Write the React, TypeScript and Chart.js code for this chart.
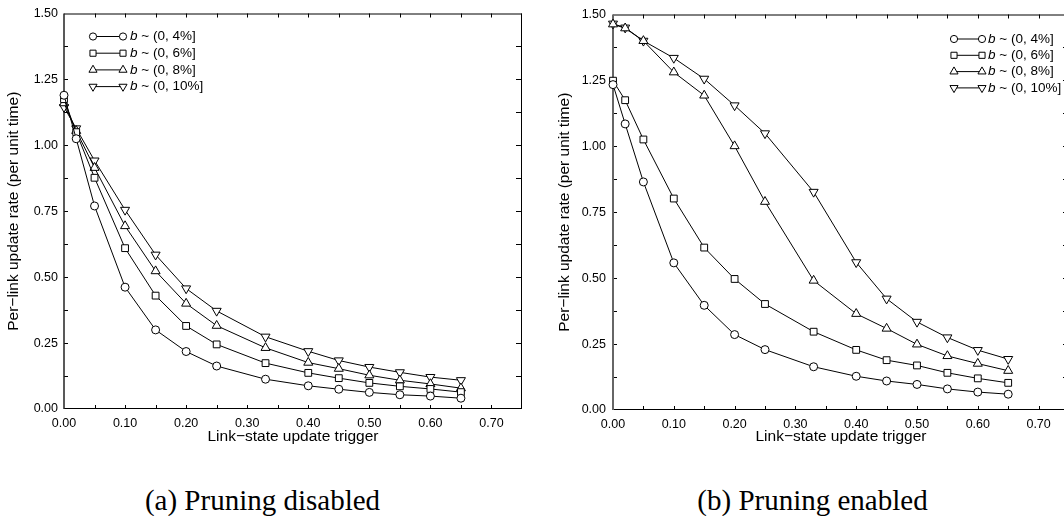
import React, { useEffect, useRef } from 'react';
import { Chart, registerables } from 'chart.js';
import { drawPoint } from 'chart.js/helpers';

Chart.register(...registerables);

// ---------- data ----------
const triggers = [0, 0.02, 0.05, 0.1, 0.15, 0.2, 0.25, 0.33, 0.4, 0.45, 0.5, 0.55, 0.6, 0.65];
const seriesNames = ['(0, 4%]', '(0, 6%]', '(0, 8%]', '(0, 10%]'];

const disabledB4 = [1.19, 1.025, 0.77, 0.462, 0.3, 0.218, 0.163, 0.113, 0.088, 0.075, 0.063, 0.054, 0.049, 0.041];
const disabledB6 = [1.175, 1.05, 0.877, 0.61, 0.43, 0.315, 0.245, 0.174, 0.137, 0.117, 0.099, 0.086, 0.076, 0.064];
const disabledB8 = [1.16, 1.055, 0.915, 0.694, 0.523, 0.4, 0.316, 0.232, 0.176, 0.153, 0.128, 0.109, 0.095, 0.079];
const disabledB10 = [1.145, 1.064, 0.942, 0.755, 0.585, 0.457, 0.372, 0.274, 0.219, 0.184, 0.159, 0.139, 0.121, 0.109];

const enabledB4 = [1.234, 1.085, 0.865, 0.558, 0.397, 0.286, 0.229, 0.164, 0.128, 0.11, 0.097, 0.08, 0.068, 0.06];
const enabledB6 = [1.249, 1.175, 1.026, 0.802, 0.616, 0.497, 0.402, 0.297, 0.228, 0.189, 0.169, 0.141, 0.12, 0.103];
const enabledB8 = [1.463, 1.448, 1.4, 1.281, 1.193, 1.001, 0.79, 0.491, 0.365, 0.309, 0.249, 0.205, 0.176, 0.149];
const enabledB10 = [1.465, 1.45, 1.4, 1.335, 1.256, 1.155, 1.049, 0.827, 0.56, 0.422, 0.334, 0.275, 0.227, 0.193];

const xAxisTitle = 'Link\u2212state update trigger';
const yAxisTitle = 'Per\u2212link update rate (per unit time)';
const captionA = '(a) Pruning disabled';
const captionB = '(b) Pruning enabled';

// ---------- styles ----------
const SANS = "'Liberation Sans', Arial, Helvetica, sans-serif";
const SERIF = "'Liberation Serif', 'Times New Roman', serif";
const markers = [
  { pointStyle: 'circle', radius: 4, rotation: 0 },
  { pointStyle: 'rect', radius: 4.8, rotation: 0 },
  { pointStyle: 'triangle', radius: 5.2, rotation: 0 },
  { pointStyle: 'triangle', radius: 5.2, rotation: 180 },
];

const framePlugin = {
  id: 'frameTicks',
  beforeDatasetsDraw(chart: any, _args: any, opts: any) {
    const { ctx, chartArea, scales } = chart;
    const { left, right, top, bottom } = chartArea;
    const xs = scales.x;
    const ys = scales.y;
    ctx.save();
    ctx.strokeStyle = '#000';
    ctx.lineWidth = 1;
    ctx.beginPath();
    ctx.moveTo(left, top + 0.5);
    ctx.lineTo(right, top + 0.5);
    ctx.moveTo(right - 0.5, top);
    ctx.lineTo(right - 0.5, bottom);
    ctx.moveTo(left, bottom - 0.5);
    ctx.lineTo(right, bottom - 0.5);
    for (let v = opts.xMinorStep; v < xs.max - 1e-9; v += opts.xMinorStep) {
      const px = Math.round(xs.getPixelForValue(v)) + 0.5;
      ctx.moveTo(px, bottom);
      ctx.lineTo(px, bottom - 4);
      ctx.moveTo(px, top);
      ctx.lineTo(px, top + 4);
    }
    for (let v = opts.yMinorStep; v < ys.max - 1e-9; v += opts.yMinorStep) {
      const py = Math.round(ys.getPixelForValue(v)) + 0.5;
      ctx.moveTo(left, py);
      ctx.lineTo(left + 4, py);
      ctx.moveTo(right, py);
      ctx.lineTo(right - 6, py);
    }
    ctx.stroke();
    ctx.beginPath();
    ctx.strokeStyle = opts.leftColor;
    ctx.lineWidth = opts.leftWidth;
    ctx.moveTo(left, top);
    ctx.lineTo(left, bottom);
    ctx.stroke();
    ctx.restore();
  },
};

const symLegendPlugin = {
  id: 'symLegend',
  afterDraw(chart: any, _args: any, opts: any) {
    const { ctx, chartArea } = chart;
    chart.data.datasets.forEach((_ds: any, i: number) => {
      const y = chartArea.top + opts.y0 + i * opts.dy;
      const ax = chartArea.left + opts.x0;
      const bx = chartArea.left + opts.x1;
      const tx = chartArea.left + opts.tx;
      ctx.save();
      ctx.strokeStyle = '#000';
      ctx.lineWidth = 1;
      ctx.beginPath();
      ctx.moveTo(ax, y);
      ctx.lineTo(bx, y);
      ctx.stroke();
      ctx.fillStyle = '#fff';
      const m = markers[i];
      const po = { pointStyle: m.pointStyle, radius: m.radius * 0.9, rotation: m.rotation, borderWidth: 1 };
      drawPoint(ctx, po as any, ax, y);
      drawPoint(ctx, po as any, bx, y);
      ctx.fillStyle = '#000';
      ctx.textBaseline = 'middle';
      ctx.textAlign = 'left';
      ctx.font = `italic 13.5px ${SANS}`;
      ctx.fillText('b', tx, y);
      const w = ctx.measureText('b').width;
      ctx.font = `13.5px ${SANS}`;
      ctx.fillText(' ~ ' + seriesNames[i], tx + w, y);
      ctx.restore();
    });
  },
};

type PanelProps = {
  series: number[][];
  left: number;
  width: number;
  height: number;
  padTop: number;
  padRight: number;
  yWidth: number;
  xHeight: number;
  yTickPad: number;
  xTickPad: number;
  leftColor: string;
  leftWidth: number;
  legend: { x0: number; x1: number; tx: number; y0: number; dy: number };
};

function Panel(p: PanelProps) {
  const ref = useRef<HTMLCanvasElement | null>(null);
  useEffect(() => {
    if (!ref.current) return;
    const chart = new Chart(ref.current, {
      type: 'line',
      data: {
        datasets: p.series.map((vals, i) => ({
          label: 'b ~ ' + seriesNames[i],
          data: triggers.map((x, j) => ({ x, y: vals[j] })),
          borderColor: '#000',
          borderWidth: 1,
          backgroundColor: '#fff',
          pointBackgroundColor: '#fff',
          pointBorderColor: '#000',
          pointBorderWidth: 1,
          pointStyle: markers[i].pointStyle as any,
          pointRadius: markers[i].radius,
          pointRotation: markers[i].rotation,
          tension: 0,
          clip: false as any,
        })),
      },
      options: {
        animation: false,
        responsive: false,
        maintainAspectRatio: false,
        events: [],
        layout: { padding: { left: 0, top: p.padTop, right: p.padRight, bottom: 0 } },
        plugins: {
          legend: { display: false },
          tooltip: { enabled: false },
          frameTicks: { xMinorStep: 0.05, yMinorStep: 0.125, leftColor: p.leftColor, leftWidth: p.leftWidth },
          symLegend: p.legend,
        } as any,
        scales: {
          x: {
            type: 'linear',
            min: 0,
            max: 0.75,
            grid: { display: false, drawTicks: false },
            border: { display: false },
            ticks: {
              stepSize: 0.1,
              includeBounds: false,
              padding: p.xTickPad,
              color: '#000',
              font: { family: SANS, size: 12.5 },
              maxRotation: 0,
              callback: (v: any) => Number(v).toFixed(2),
            },
            title: {
              display: true,
              text: xAxisTitle,
              color: '#000',
              font: { family: SANS, size: 15.5 },
              padding: { top: 0, bottom: 9 },
            },
            afterFit: (s: any) => {
              s.height = p.xHeight;
            },
          },
          y: {
            type: 'linear',
            min: 0,
            max: 1.5,
            grid: { display: false, drawTicks: false },
            border: { display: false },
            ticks: {
              stepSize: 0.25,
              padding: p.yTickPad,
              color: '#000',
              font: { family: SANS, size: 12.5 },
              callback: (v: any) => Number(v).toFixed(2),
            },
            title: {
              display: true,
              text: yAxisTitle,
              color: '#000',
              font: { family: SANS, size: 15.5 },
              padding: { top: 4.5, bottom: 0 },
            },
            afterFit: (s: any) => {
              s.width = p.yWidth;
            },
          },
        },
      },
      plugins: [framePlugin, symLegendPlugin],
    });
    return () => chart.destroy();
  }, []);
  return (
    <canvas
      ref={ref}
      width={p.width}
      height={p.height}
      style={{ position: 'absolute', left: p.left, top: 0, width: p.width, height: p.height }}
    />
  );
}

const captionStyle = (cx: number): React.CSSProperties => ({
  position: 'absolute',
  left: cx - 200,
  width: 400,
  top: 484,
  lineHeight: '32px',
  textAlign: 'center',
  fontFamily: SERIF,
  fontSize: 29,
  color: '#000',
  whiteSpace: 'nowrap',
});

export default function App() {
  return (
    <div
      style={{
        position: 'fixed',
        left: 0,
        top: 0,
        width: 1064,
        height: 516,
        overflow: 'hidden',
        background: '#fff',
      }}
    >
      <Panel
        series={[disabledB4, disabledB6, disabledB8, disabledB10]}
        left={0}
        width={540}
        height={455}
        padTop={10}
        padRight={18}
        yWidth={64}
        xHeight={46}
        yTickPad={6}
        xTickPad={7}
        leftColor="#222"
        leftWidth={1.5}
        legend={{ x0: 29, x1: 59, tx: 66, y0: 23, dy: 16.7 }}
      />
      <Panel
        series={[enabledB4, enabledB6, enabledB8, enabledB10]}
        left={551}
        width={540}
        height={455}
        padTop={13}
        padRight={22}
        yWidth={62}
        xHeight={45}
        yTickPad={7}
        xTickPad={7}
        leftColor="#666"
        leftWidth={2}
        legend={{ x0: 341, x1: 369, tx: 375, y0: 24.5, dy: 16.3 }}
      />
      <div style={captionStyle(262.5)}>{captionA}</div>
      <div style={captionStyle(812.5)}>{captionB}</div>
    </div>
  );
}
